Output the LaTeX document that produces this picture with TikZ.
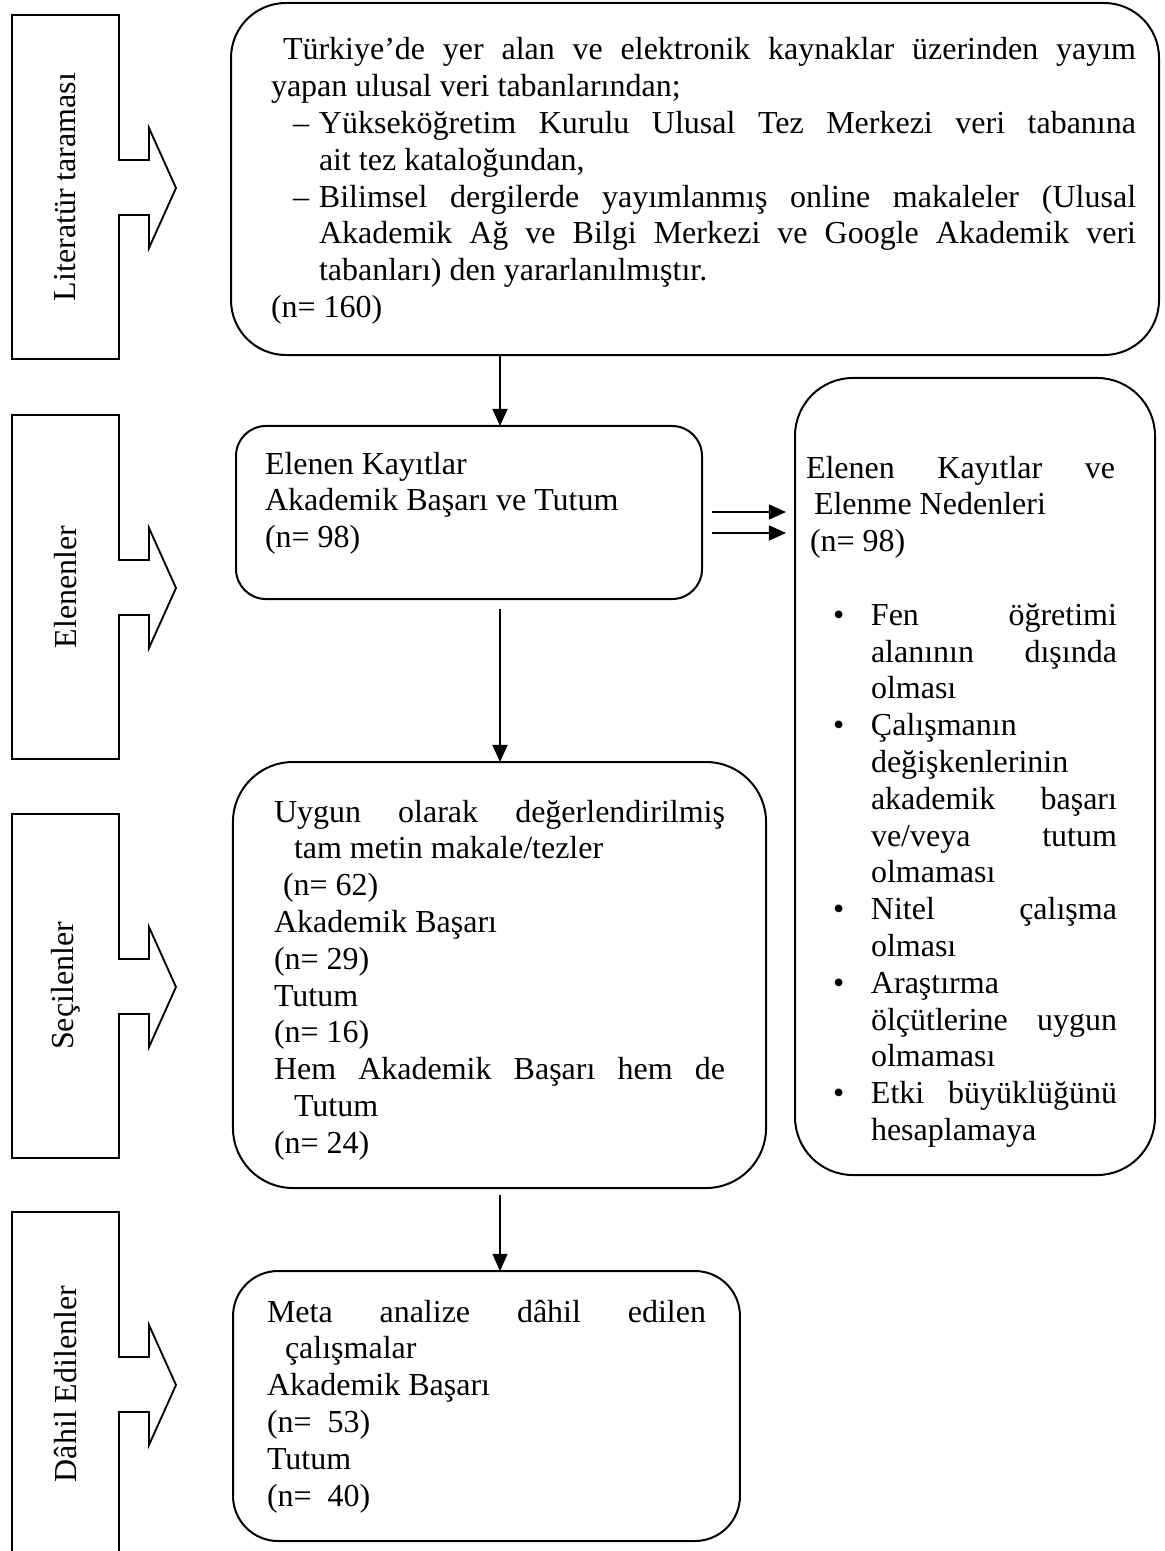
\documentclass[tikz,border=0pt]{standalone}
\usepackage{fontspec}
\setmainfont{Liberation Serif}
\usetikzlibrary{arrows.meta,calc}
\newlength\px \setlength\px{0.375pt}
\newcommand\fsz{\fontsize{12pt}{13.8pt}\selectfont}
\newcommand\jl[2]{\makebox[#1\px][s]{#2}}
\newcommand\bul{\makebox[65\px][l]{\hspace*{27\px}•}}
\newcommand\ind{\hspace*{65\px}}
\tikzset{
  rbox/.style={draw, line width=0.75pt, inner sep=0pt, outer sep=0pt},
  lbl/.style={draw, line width=0.7pt, line join=miter},
  arr/.style={line width=0.6pt, -{Triangle[width=5.6pt,length=6.4pt]}},
  txt/.style={anchor=base west, inner sep=0pt, outer sep=0pt},
  lbltxt/.style={rotate=90, inner sep=0pt, font=\fsz},
}
\begin{document}
\begin{tikzpicture}[x=0.375pt, y=-0.375pt]
\useasboundingbox (0,0) rectangle (1165,1551);
\clip (0,0) rectangle (1165,1551);
\fill[white] (0,0) rectangle (1165,1551);

% side labels (arrow callouts)
\foreach \T/\nm/\txt in {15/l1/Literatür taraması, 415/l2/Elenenler, 814/l3/Seçilenler, 1212/l4/Dâhil Edilenler}{
  \draw[lbl] (12,\T) -- (119,\T) -- (119,\T+145) -- (149,\T+145) -- (149,\T+113)
    -- (176,\T+173) -- (149,\T+233) -- (149,\T+200) -- (119,\T+200) -- (119,\T+344)
    -- (12,\T+344) -- cycle;
  \node[lbltxt] (\nm) at (65.5,\T+172) {\txt};
}

% boxes
\node[rbox, rounded corners=20.6pt, minimum width=348pt, minimum height=132pt] (top) at (695,179) {};
\node[rbox, rounded corners=11.25pt, minimum width=174.75pt, minimum height=64.9pt] (b2) at (469,512.5) {};
\node[rbox, rounded corners=21.75pt, minimum width=135pt, minimum height=298.9pt] (rb) at (975,776.5) {};
\node[rbox, rounded corners=22.5pt, minimum width=199.9pt, minimum height=159.75pt] (b3) at (499.5,975) {};
\node[rbox, rounded corners=16.9pt, minimum width=190.1pt, minimum height=101.25pt] (b4) at (486.5,1406) {};

% texts
\node[txt] (t0) at (271,60) {\parbox[t]{865\px}{\fsz
\hspace*{12\px}\jl{853}{Türkiye’de yer alan ve elektronik kaynaklar üzerinden yayım}\\
yapan ulusal veri tabanlarından;\\
\hspace*{22\px}\makebox[26\px][l]{–}\jl{817}{Yükseköğretim Kurulu Ulusal Tez Merkezi veri tabanına}\\
\hspace*{48\px}ait tez kataloğundan,\\
\hspace*{22\px}\makebox[26\px][l]{–}\jl{817}{Bilimsel dergilerde yayımlanmış online makaleler (Ulusal}\\
\hspace*{48\px}\jl{817}{Akademik Ağ ve Bilgi Merkezi ve Google Akademik veri}\\
\hspace*{48\px}tabanları) den yararlanılmıştır.\\
(n= 160)}};

\node[txt] (t2) at (265,474) {\parbox[t]{430\px}{\fsz
Elenen Kayıtlar\\
Akademik Başarı ve Tutum\\
(n= 98)}};

\node[txt] (tr) at (806,478) {\parbox[t]{311\px}{\fsz
\jl{309}{Elenen Kayıtlar ve}\\
\hspace*{8\px}Elenme Nedenleri\\
\hspace*{4\px}(n= 98)\\
\mbox{}\\
\bul\jl{246}{Fen öğretimi}\\
\ind\jl{246}{alanının dışında}\\
\ind olması\\
\bul Çalışmanın\\
\ind değişkenlerinin\\
\ind\jl{246}{akademik başarı}\\
\ind\jl{246}{ve/veya tutum}\\
\ind olmaması\\
\bul\jl{246}{Nitel çalışma}\\
\ind olması\\
\bul Araştırma\\
\ind\jl{246}{ölçütlerine uygun}\\
\ind olmaması\\
\bul\jl{246}{Etki büyüklüğünü}\\
\ind hesaplamaya}};

\node[txt] (t3) at (274,822) {\parbox[t]{451\px}{\fsz
\jl{451}{Uygun olarak değerlendirilmiş}\\
\hspace*{20\px}tam metin makale/tezler\\
\hspace*{9\px}(n= 62)\\
Akademik Başarı\\
(n= 29)\\
Tutum\\
(n= 16)\\
\jl{451}{Hem Akademik Başarı hem de}\\
\hspace*{20\px}Tutum\\
(n= 24)}};

\node[txt] (t4) at (267,1322) {\parbox[t]{439\px}{\fsz
\jl{439}{Meta analize dâhil edilen}\\
\hspace*{18\px}çalışmalar\\
Akademik Başarı\\
(n=\ \ 53)\\
Tutum\\
(n=\ \ 40)}};

% connectors
\coordinate (ax) at (500,0);
\coordinate (d1) at (0,512);
\coordinate (d2) at (0,533);
\draw[arr] (ax |- top.south) -- (ax |- b2.north);
\draw[arr] ($(ax |- b2.south)+(0,10)$) -- (ax |- b3.north);
\draw[arr] ($(ax |- b3.south)+(0,7)$) -- (ax |- b4.north);
\draw[arr] ($(d1 -| b2.east)+(10,0)$) -- ($(d1 -| rb.west)+(-9,0)$);
\draw[arr] ($(d2 -| b2.east)+(10,0)$) -- ($(d2 -| rb.west)+(-9,0)$);
\end{tikzpicture}
\end{document}
